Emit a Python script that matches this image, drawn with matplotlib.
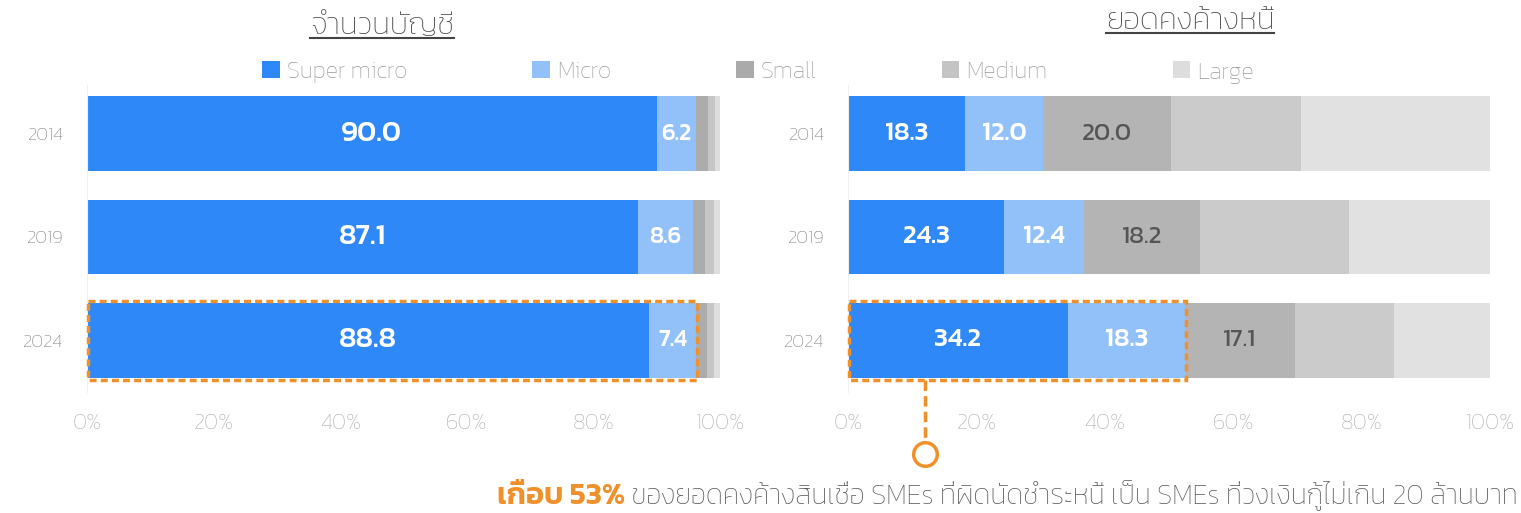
import matplotlib
matplotlib.use('Agg')
import matplotlib.pyplot as plt
from matplotlib.patches import Rectangle, Patch
from matplotlib.lines import Line2D

plt.rcParams['font.family'] = ['Kanit', 'DejaVu Sans']

# data (percent shares)
years = ['2014', '2019', '2024']
segments = ['Super micro', 'Micro', 'Small', 'Medium', 'Large']

acc_super_micro = [90.0, 87.1, 88.8]
acc_micro = [6.2, 8.6, 7.4]
acc_small = [1.9, 2.0, 1.8]
acc_medium = [1.1, 1.3, 1.1]
acc_large = [0.8, 1.0, 0.9]

loan_super_micro = [18.3, 24.3, 34.2]
loan_micro = [12.0, 12.4, 18.3]
loan_small = [20.0, 18.2, 17.1]
loan_medium = [20.2, 23.1, 15.4]
loan_large = [29.5, 22.0, 15.0]

title_left = 'จำนวนบัญชี'
title_right = 'ยอดคงค้างหนี้'
note_hi = 'เกือบ 53%'
note_rest = ' ของยอดคงค้างสินเชื่อ SMEs ที่ผิดนัดชำระหนี้ เป็น SMEs ที่วงเงินกู้ไม่เกิน 20 ล้านบาท'
note_x = 12  # % position on right axis where the callout hangs

colors_left = ['#2e88f8', '#92c1fa', '#acacac', '#c6c6c6', '#dedede']
colors_right = ['#2e88f8', '#92c1fa', '#b4b4b4', '#cbcbcb', '#e1e1e1']
orange = '#f0902a'

fig = plt.figure(figsize=(15.21, 5.13), dpi=100)
ax1 = fig.add_axes([87 / 1521, 1 - 392 / 513, 633 / 1521, 307 / 513])
ax2 = fig.add_axes([848 / 1521, 1 - 392 / 513, 642 / 1521, 307 / 513])

ypos = list(range(len(years)))
bar_h = 0.72


def stacked(ax, series, colors, label_rules):
    left = [0.0] * len(years)
    for k, vals in enumerate(series):
        ax.barh(ypos, vals, left=left, height=bar_h, color=colors[k], edgecolor='none')
        rule = label_rules[k]
        if rule is not None:
            for i, v in enumerate(vals):
                ax.text(left[i] + v / 2, ypos[i], f'{v:.1f}', ha='center', va='center',
                        color=rule[0], fontsize=rule[1], fontweight=rule[2])
        left = [l + v for l, v in zip(left, vals)]
    ax.set_xlim(0, 100)
    ax.set_ylim(2.5, -0.47)
    ax.set_yticks(ypos)
    ax.set_yticklabels(years, fontsize=13.5, color='#6f6f6f', fontweight='light')
    ax.set_xticks([0, 20, 40, 60, 80, 100])
    ax.set_xticklabels(['0%', '20%', '40%', '60%', '80%', '100%'], fontsize=16,
                       color='#aaaaaa', fontweight='light')
    ax.tick_params(length=0)
    ax.tick_params(axis='x', pad=16)
    ax.tick_params(axis='y', pad=17)
    for s in ['top', 'right', 'bottom']:
        ax.spines[s].set_visible(False)
    ax.spines['left'].set_color('#efefef')


stacked(ax1, [acc_super_micro, acc_micro, acc_small, acc_medium, acc_large], colors_left,
        [('white', 21, 'medium'), ('white', 17, 'medium'), None, None, None])
stacked(ax2, [loan_super_micro, loan_micro, loan_small, loan_medium, loan_large], colors_right,
        [('white', 19, 'medium'), ('white', 19, 'medium'), ('#555555', 18, 'normal'), None, None])

# dashed highlight boxes around 2024 super micro + micro
pad = 0.02
w1 = acc_super_micro[2] + acc_micro[2]
ax1.add_patch(Rectangle((0.2, 2 - bar_h / 2 - pad), w1, bar_h + 2 * pad, fill=False,
                        edgecolor=orange, lw=2.5, ls=(0, (2, 1.2)), zorder=5, clip_on=False))
w2 = loan_super_micro[2] + loan_micro[2]
ax2.add_patch(Rectangle((0.1, 2 - bar_h / 2 - pad), w2, bar_h + 2 * pad, fill=False,
                        edgecolor=orange, lw=2.5, ls=(0, (2, 1.2)), zorder=5, clip_on=False))

# callout line + circle
ax2.plot([note_x, note_x], [2 + bar_h / 2 + pad, 3.0], color=orange, lw=2.5,
         ls=(0, (3, 1.5)), clip_on=False)
ax2.plot([note_x], [3.1], marker='o', ms=17, mfc='white', mec=orange, mew=2.5, clip_on=False)

# legend
handles = [Patch(facecolor=c, edgecolor='none') for c in
           ['#2e88f8', '#92c1fa', '#aaaaaa', '#c4c4c4', '#dddddd']]
fig.legend(handles, segments, loc='center', bbox_to_anchor=(758 / 1521, 1 - 72 / 513),
           ncol=5, frameon=False, labelcolor='#9a9a9a',
           handlelength=0.75, handleheight=0.75, handletextpad=0.3, columnspacing=5.3,
           prop={'weight': 'light', 'size': 17})

# titles with underline
t1 = fig.text(382 / 1521, 1 - 27 / 513, title_left, ha='center', va='center',
              fontsize=22, color='#444444', fontweight='light')
t2 = fig.text(1190 / 1521, 1 - 22 / 513, title_right, ha='center', va='center',
              fontsize=22, color='#444444', fontweight='light')
fig.canvas.draw()
r = fig.canvas.get_renderer()
for t in [t1, t2]:
    bb = t.get_window_extent(r)
    yl = bb.y0 + 3
    fig.add_artist(Line2D([bb.x0 / 1521, bb.x1 / 1521], [yl / 513, yl / 513],
                          color='#444444', lw=1.5, transform=fig.transFigure))

# bottom note
n1 = fig.text(497 / 1521, 1 - 496 / 513, note_hi, ha='left', va='center', fontsize=22,
              color=orange, fontweight='semibold')
fig.canvas.draw()
bb = n1.get_window_extent(r)
fig.text(bb.x1 / 1521, 1 - 496 / 513, note_rest, ha='left', va='center', fontsize=19.8,
         color='#555555', fontweight='light')

fig.savefig('out.png')
